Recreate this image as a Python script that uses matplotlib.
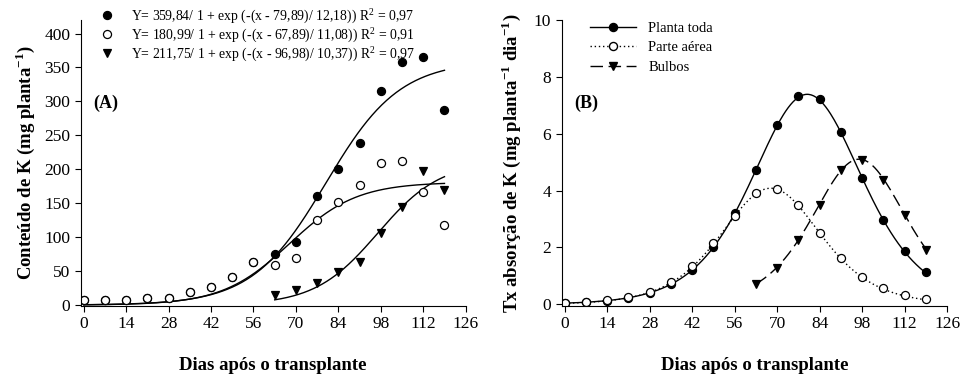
import numpy as np
import matplotlib.pyplot as plt
from matplotlib.lines import Line2D

plt.rcParams['font.family'] = 'Liberation Serif'
plt.rcParams['mathtext.fontset'] = 'custom'
plt.rcParams['mathtext.rm'] = 'Liberation Serif'
plt.rcParams['mathtext.bf'] = 'Liberation Serif:bold'
plt.rcParams['axes.unicode_minus'] = False

# sampling days (weekly)
days = [0, 7, 14, 21, 28, 35, 42, 49, 56, 63, 70, 77, 84, 91, 98, 105, 112, 119]
days_bulb = [63, 70, 77, 84, 91, 98, 105, 112, 119]

# (A) K content, mg per plant
planta_a = [7.8, 8, 7, 10, 11, 18.6, 26, 42, 63, 75, 93, 160, 200, 239, 316, 358, 366, 288]
parte_a = [7.8, 8, 7, 10, 11, 18.6, 26, 42, 63, 59, 70, 126, 152, 177, 210, 212, 167, 118]
bulbos_a = [15, 22.5, 32, 48, 63, 106, 145, 198, 170]

# logistic fits shown in the legend: a, x0, b
fit_planta = [359.84, 79.89, 12.18]
fit_parte = [180.99, 67.89, 11.08]
fit_bulbos = [211.75, 96.98, 10.37]
r2 = ["0,97", "0,91", "0,97"]

# (B) K uptake rate, mg per plant per day
planta_b = [0.04, 0.07, 0.13, 0.23, 0.41, 0.72, 1.21, 2.02, 3.2, 4.74, 6.32, 7.32, 7.21, 6.06, 4.45, 2.97, 1.87, 1.12]
parte_b = [0.06, 0.08, 0.15, 0.26, 0.44, 0.79, 1.34, 2.16, 3.10, 3.91, 4.06, 3.48, 2.52, 1.62, 0.97, 0.56, 0.33, 0.19]
bulbos_b = [0.70, 1.29, 2.25, 3.50, 4.71, 5.06, 4.38, 3.13, 1.92]


def logistic(x, a, x0, b):
    return a / (1 + np.exp(-(x - x0) / b))


def logistic_rate(x, a, x0, b):
    e = np.exp(-(x - x0) / b)
    return a / b * e / (1 + e) ** 2


def eq_label(p, r):
    f = lambda v: f"{v:.2f}".replace(".", ",")
    return f"Y= {f(p[0])}/ 1 + exp (-(x - {f(p[1])})/ {f(p[2])})) R$^2$ = {r}"


def style_axes(ax):
    ax.spines["top"].set_visible(False)
    ax.spines["right"].set_visible(False)
    ax.set_xlim(-1, 126)
    ax.set_xticks(range(0, 127, 14))
    ax.tick_params(direction="out", length=4, labelsize=12.5)
    ax.set_xlabel("Dias após o transplante", fontsize=13.5, fontweight="bold", labelpad=18)


fig = plt.figure(figsize=(9.65, 3.77), dpi=100)
ax1 = fig.add_axes([0.0836, 0.189, 0.399, 0.758])
ax2 = fig.add_axes([0.582, 0.189, 0.3996, 0.758])

mk = dict(ms=5.8, mec="black", mew=0.9, ls="none")

# ---- panel A
x_full = np.linspace(0, 119, 300)
x_bulb = np.linspace(63, 119, 200)
ax1.plot(x_full, logistic(x_full, *fit_planta), color="black", lw=1)
ax1.plot(x_full, logistic(x_full, *fit_parte), color="black", lw=1)
ax1.plot(x_bulb, logistic(x_bulb, *fit_bulbos), color="black", lw=1)
ax1.plot(days, planta_a, marker="o", mfc="black", **mk)
ax1.plot(days, parte_a, marker="o", mfc="white", **mk)
ax1.plot(days_bulb, bulbos_a, marker="v", mfc="black", **mk)
style_axes(ax1)
ax1.set_ylim(-1, 420)
ax1.set_yticks(range(0, 401, 50))
ax1.set_ylabel(r"Conteúdo de K (mg planta$^{\mathbf{-1}}$)", fontsize=13.5, fontweight="bold", labelpad=5)
ax1.text(0.032, 0.71, "(A)", transform=ax1.transAxes, fontsize=13, fontweight="bold", va="center")

handles_a = [
    Line2D([], [], marker="o", mfc="black", **mk),
    Line2D([], [], marker="o", mfc="white", **mk),
    Line2D([], [], marker="v", mfc="black", **mk),
]
labels_a = [eq_label(p, r) for p, r in zip([fit_planta, fit_parte, fit_bulbos], r2)]
ax1.legend(handles_a, labels_a, loc="upper left", bbox_to_anchor=(0.05, 1.05), frameon=False,
           fontsize=9.9, handlelength=1, handletextpad=1.25, labelspacing=0.0,
           borderpad=0, borderaxespad=0)

# ---- panel B
ax2.plot(x_full, logistic_rate(x_full, *fit_planta), color="black", lw=1)
ax2.plot(x_full, logistic_rate(x_full, *fit_parte), color="black", lw=1, ls=(0, (1, 2)))
ax2.plot(x_bulb, logistic_rate(x_bulb, *fit_bulbos), color="black", lw=1, ls=(0, (9, 4)))
ax2.plot(days, planta_b, marker="o", mfc="black", **mk)
ax2.plot(days, parte_b, marker="o", mfc="white", **mk)
ax2.plot(days_bulb, bulbos_b, marker="v", mfc="black", **mk)
style_axes(ax2)
ax2.set_ylim(-0.05, 10)
ax2.set_yticks(range(0, 11, 2))
ax2.set_ylabel(r"Tx absorção de K (mg planta$^{\mathbf{-1}}$ dia$^{\mathbf{-1}}$)", fontsize=13.5,
               fontweight="bold", labelpad=8)
ax2.text(0.032, 0.71, "(B)", transform=ax2.transAxes, fontsize=13, fontweight="bold", va="center")

handles_b = [
    Line2D([], [], color="black", lw=1, marker="o", mfc="black", ms=5.8, mec="black"),
    Line2D([], [], color="black", lw=1, ls=(0, (1, 2)), marker="o", mfc="white", ms=5.8, mec="black"),
    Line2D([], [], color="black", lw=1, ls=(0, (9, 4)), marker="v", mfc="black", ms=5.8, mec="black"),
]
ax2.legend(handles_b, ["Planta toda", "Parte aérea", "Bulbos"], loc="upper left",
           bbox_to_anchor=(0.073, 0.995), frameon=False, fontsize=10.5, handlelength=3.2,
           handletextpad=0.8, labelspacing=0.45, borderpad=0, borderaxespad=0)

fig.savefig("out.png", dpi=100)
